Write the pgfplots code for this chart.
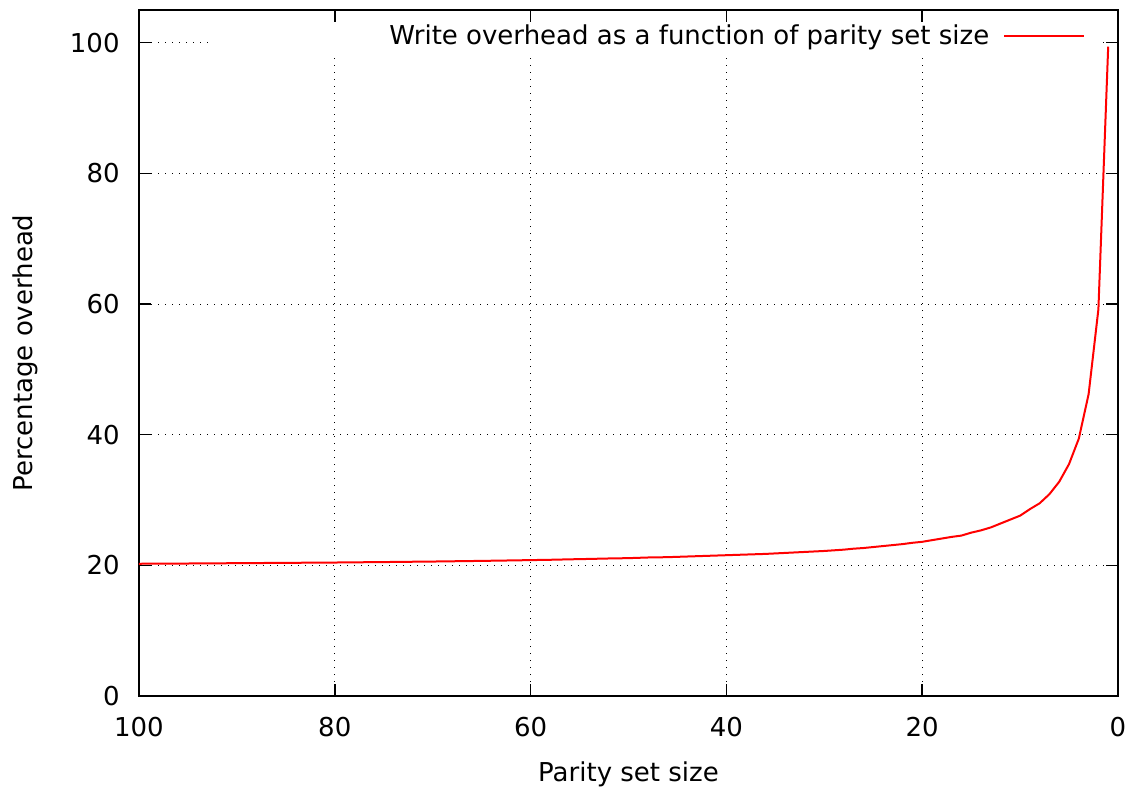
\documentclass[border=0pt]{standalone}
\usepackage{fontspec}
\setmainfont{DejaVu Sans}
\usepackage{pgfplots}
\pgfplotsset{compat=1.18}
\begin{document}
\begin{tikzpicture}
\useasboundingbox (-69.5pt,-46.5pt) rectangle (499pt,348pt);
\begin{axis}[
  at={(0,0)}, anchor=south west,
  scale only axis,
  width=489.5pt, height=343pt,
  xmin=0, xmax=100, ymin=0, ymax=105,
  x dir=reverse,
  xtick={0,20,40,60,80,100},
  ytick={0,20,40,60,80,100},
  font=\fontsize{13}{15}\selectfont,
  /pgf/number format/assume math mode=true,
  tick align=inside,
  major tick length=6pt,
  minor tick num=0,
  axis line style={line width=1pt, black},
  every tick/.style={black, line width=0.8pt},
  grid=major,
  major grid style={black, line width=0.5pt, dash pattern=on 0.5pt off 3pt},
  xticklabel style={anchor=base, inner sep=0pt, yshift=-20pt},
  yticklabel style={anchor=east, inner sep=0pt, xshift=-9.5pt},
  xlabel={Parity set size},
  ylabel={Percentage overhead},
  every axis x label/.style={at={(axis description cs:0.5,0)}, anchor=base, yshift=-42.5pt},
  every axis y label/.style={at={(axis description cs:0,0.5)}, xshift=-53pt, rotate=90, anchor=base},
  legend plot pos=right,
  legend cell align=right,
  legend image code/.code={\draw[#1] (0pt,0pt) -- (40pt,0pt);},
  legend style={at={(axis description cs:0.967,0.962)}, anchor=east, draw=none, fill=none, inner sep=0pt,
    nodes={inner sep=0pt}, font=\fontsize{13}{15}\selectfont},
]
\fill[white] (axis cs:92.44,98.2) rectangle (axis cs:1.84,103.0);
\addplot[red, line width=1pt] coordinates {
(1,99.4) (2,59.2) (3,46.2) (4,39.4) (5,35.5) (6,32.8) (7,30.9) (8,29.5) (9,28.6) (10,27.6)
(11,27.0) (12,26.4) (13,25.8) (14,25.35) (15,25.0) (16,24.55) (17,24.35) (18,24.1) (19,23.85) (20,23.6)
(21,23.45) (22,23.25) (23,23.1) (24,22.95) (25,22.8) (26,22.65) (27,22.55) (28,22.4) (29,22.3) (30,22.2)
(32,22.05) (34,21.9) (36,21.75) (38,21.65) (40,21.55) (42,21.45) (44,21.35) (46,21.25) (48,21.2) (50,21.1)
(52,21.05) (54,20.98) (56,20.92) (58,20.85) (60,20.8) (62,20.75) (65,20.68) (68,20.62) (70,20.58) (72,20.55)
(75,20.5) (78,20.46) (80,20.43) (83,20.4) (86,20.37) (89,20.34) (92,20.31) (95,20.28) (98,20.26) (100,20.24)
};
\addlegendentry{Write overhead as a function of parity set size\rule{7pt}{0pt}}
\end{axis}
\end{tikzpicture}
\end{document}
